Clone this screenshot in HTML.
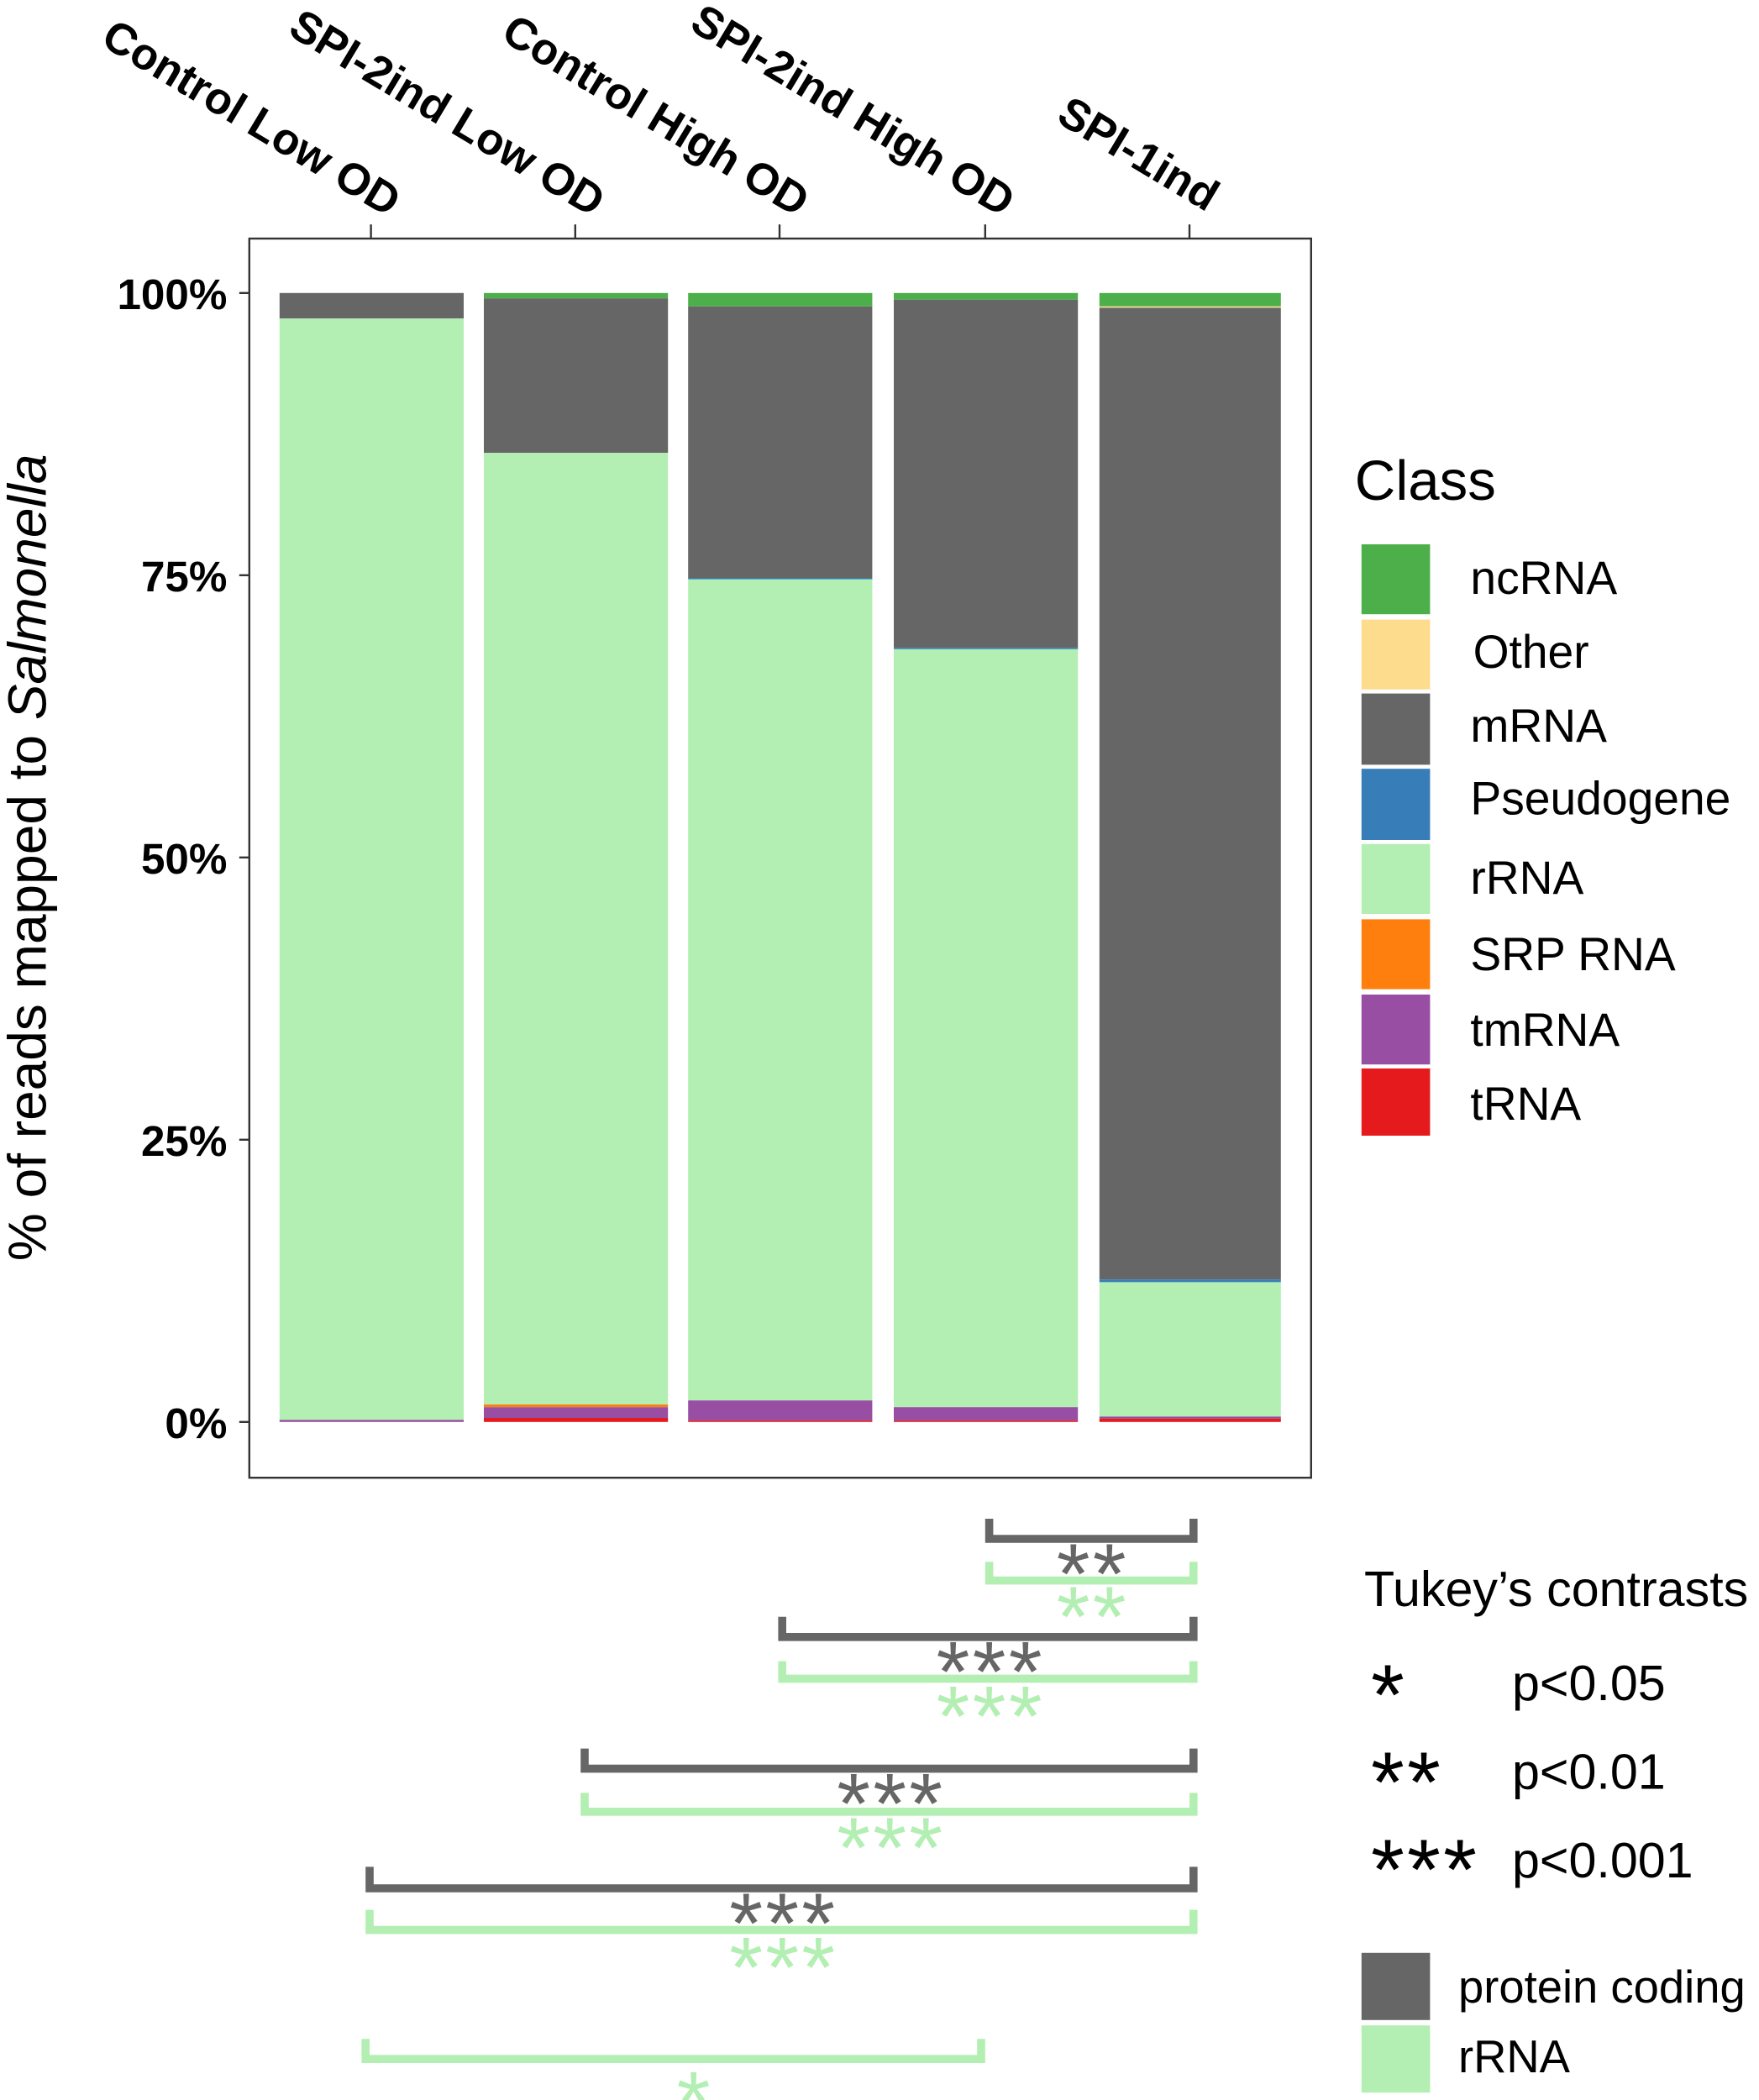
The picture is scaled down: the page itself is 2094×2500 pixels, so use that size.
<!DOCTYPE html>
<html><head><meta charset="utf-8"><style>html,body{margin:0;padding:0;background:#fff}svg{display:block}</style></head>
<body>
<svg width="2094" height="2500" viewBox="0 0 1308.75 1562.5" xmlns="http://www.w3.org/2000/svg" font-family="Liberation Sans, sans-serif">
<rect width="1308.75" height="1562.5" fill="#fff"/>
<rect x="185.5" y="177.5" width="790" height="922" fill="#fff" stroke="#333" stroke-width="1.5"/>
<rect x="208" y="218" width="137" height="19" fill="#666"/>
<rect x="208" y="237" width="137" height="820" fill="#b3eeb3"/>
<rect x="208" y="1056.5" width="137" height="1.5" fill="#984ea3"/>
<rect x="360" y="218" width="137" height="4" fill="#4daf4a"/>
<rect x="360" y="222" width="137" height="115" fill="#666"/>
<rect x="360" y="337" width="137" height="708" fill="#b3eeb3"/>
<rect x="360" y="1045" width="137" height="2" fill="#ff7f0e"/>
<rect x="360" y="1047" width="137" height="8" fill="#984ea3"/>
<rect x="360" y="1055" width="137" height="3" fill="#e41a1c"/>
<rect x="512" y="218" width="137" height="10" fill="#4daf4a"/>
<rect x="512" y="228" width="137" height="202" fill="#666"/>
<rect x="512" y="430" width="137" height="1.2" fill="#377eb8"/>
<rect x="512" y="431" width="137" height="611" fill="#b3eeb3"/>
<rect x="512" y="1042" width="137" height="15" fill="#984ea3"/>
<rect x="512" y="1057" width="137" height="1" fill="#e41a1c"/>
<rect x="665" y="218" width="137" height="5" fill="#4daf4a"/>
<rect x="665" y="223" width="137" height="259" fill="#666"/>
<rect x="665" y="482" width="137" height="1.2" fill="#377eb8"/>
<rect x="665" y="483" width="137" height="564" fill="#b3eeb3"/>
<rect x="665" y="1047" width="137" height="10" fill="#984ea3"/>
<rect x="665" y="1057" width="137" height="1" fill="#e41a1c"/>
<rect x="818" y="218" width="135" height="10" fill="#4daf4a"/>
<rect x="818" y="228" width="135" height="1" fill="#fddc8e"/>
<rect x="818" y="229" width="135" height="723" fill="#666"/>
<rect x="818" y="952" width="135" height="2" fill="#377eb8"/>
<rect x="818" y="954" width="135" height="100" fill="#b3eeb3"/>
<rect x="818" y="1054" width="135" height="1.5" fill="#984ea3"/>
<rect x="818" y="1055.5" width="135" height="2.5" fill="#e41a1c"/>
<g stroke="#333" stroke-width="1.5">
<line x1="178" y1="218" x2="185" y2="218"/><line x1="178" y1="428" x2="185" y2="428"/>
<line x1="178" y1="638" x2="185" y2="638"/><line x1="178" y1="848" x2="185" y2="848"/>
<line x1="178" y1="1058" x2="185" y2="1058"/>
<line x1="276" y1="167" x2="276" y2="177"/><line x1="428" y1="167" x2="428" y2="177"/>
<line x1="580" y1="167" x2="580" y2="177"/><line x1="733" y1="167" x2="733" y2="177"/>
<line x1="885" y1="167" x2="885" y2="177"/>
</g>
<g font-size="32" font-weight="bold" text-anchor="end" fill="#000">
<text x="169" y="230">100%</text><text x="169" y="440">75%</text>
<text x="169" y="650">50%</text><text x="169" y="860">25%</text>
<text x="169" y="1070">0%</text>
</g>
<g font-size="33" font-weight="bold" text-anchor="end" fill="#000">
<text transform="translate(289,162) rotate(31)">Control Low OD</text>
<text transform="translate(441,162) rotate(31)">SPI-2ind Low OD</text>
<text transform="translate(593,162) rotate(31)">Control High OD</text>
<text transform="translate(746,162) rotate(31)">SPI-2ind High OD</text>
<text transform="translate(898,158) rotate(31)">SPI-1ind</text>
</g>
<text transform="translate(34,638) rotate(-90)" font-size="40" text-anchor="middle" fill="#000">% of reads mapped to <tspan font-style="italic">Salmonella</tspan></text>
<text x="1008" y="372" font-size="42" fill="#000">Class</text>
<g>
<rect x="1013" y="405" width="51" height="52" fill="#4daf4a"/>
<rect x="1013" y="461" width="51" height="52" fill="#fddc8e"/>
<rect x="1013" y="516" width="51" height="53" fill="#666"/>
<rect x="1013" y="572" width="51" height="53" fill="#377eb8"/>
<rect x="1013" y="628" width="51" height="52" fill="#b3eeb3"/>
<rect x="1013" y="684" width="51" height="52" fill="#ff7f0e"/>
<rect x="1013" y="740" width="51" height="52" fill="#984ea3"/>
<rect x="1013" y="795" width="51" height="50" fill="#e41a1c"/>
</g>
<g font-size="34.5" fill="#000">
<text x="1094" y="442">ncRNA</text><text x="1096" y="497">Other</text>
<text x="1094" y="552">mRNA</text><text x="1094" y="606">Pseudogene</text>
<text x="1094" y="665">rRNA</text><text x="1094" y="722">SRP RNA</text>
<text x="1094" y="778">tmRNA</text><text x="1094" y="833">tRNA</text>
</g>
<g fill="none" stroke-width="6">
<path d="M736 1130 V1145 H888 V1130" stroke="#666"/>
<path d="M736 1162 V1176 H888 V1162" stroke="#b3eeb3"/>
<path d="M582 1203 V1218 H888 V1203" stroke="#666"/>
<path d="M582 1236 V1249 H888 V1236" stroke="#b3eeb3"/>
<path d="M435 1301 V1316 H888 V1301" stroke="#666"/>
<path d="M435 1334 V1348 H888 V1334" stroke="#b3eeb3"/>
<path d="M275 1389 V1405 H888 V1389" stroke="#666"/>
<path d="M275 1421 V1436 H888 V1421" stroke="#b3eeb3"/>
<path d="M272 1517 V1532 H730 V1517" stroke="#b3eeb3"/>
</g>
<g font-size="64" text-anchor="middle" letter-spacing="2">
<text x="813" y="1193" fill="#666">**</text>
<text x="813" y="1225" fill="#b3eeb3">**</text>
<text x="737" y="1266" fill="#666">***</text>
<text x="737" y="1299" fill="#b3eeb3">***</text>
<text x="663" y="1364" fill="#666">***</text>
<text x="663" y="1397" fill="#b3eeb3">***</text>
<text x="583" y="1453" fill="#666">***</text>
<text x="583" y="1486" fill="#b3eeb3">***</text>
<text x="517" y="1586" fill="#b3eeb3">*</text>
</g>
<text x="1015" y="1195" font-size="37" fill="#000">Tukey’s contrasts</text>
<g font-size="64" fill="#000" letter-spacing="2">
<text x="1020" y="1283">*</text>
<text x="1020" y="1348">**</text>
<text x="1020" y="1413">***</text>
</g>
<g font-size="37" fill="#000">
<text x="1125" y="1265">p&lt;0.05</text>
<text x="1125" y="1331">p&lt;0.01</text>
<text x="1125" y="1397">p&lt;0.001</text>
</g>
<rect x="1013" y="1453" width="51" height="50" fill="#666"/>
<rect x="1013" y="1507" width="51" height="50" fill="#b3eeb3"/>
<g font-size="34" fill="#000">
<text x="1085" y="1490">protein coding</text>
<text x="1085" y="1542">rRNA</text>
</g>
</svg>
</body></html>
